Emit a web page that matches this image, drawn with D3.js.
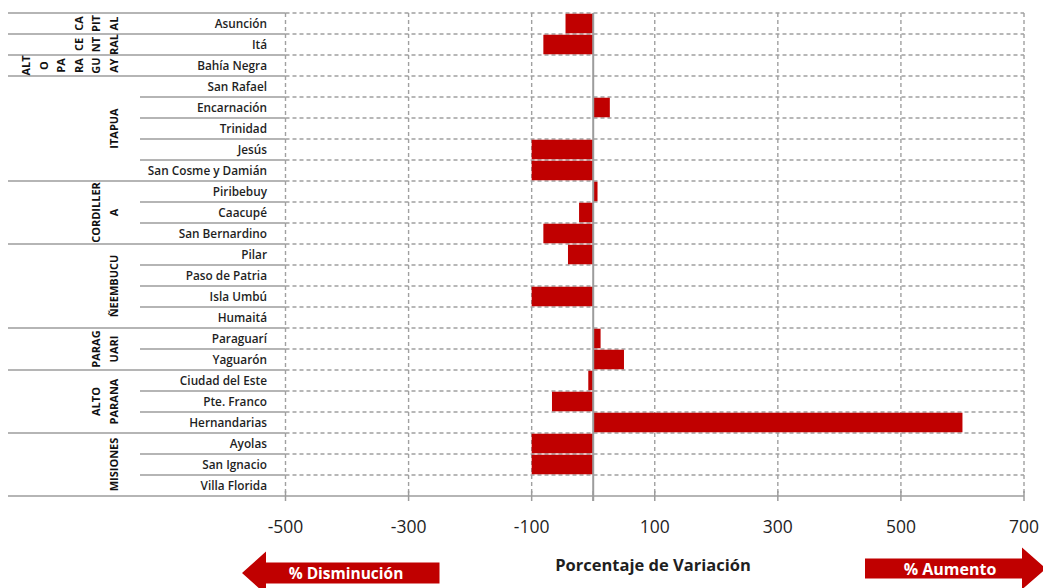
<!DOCTYPE html>
<html>
<head>
<meta charset="utf-8">
<script src="https://cdn.jsdelivr.net/npm/d3@7"></script>
<style>
  html, body { margin: 0; padding: 0; background: #fff; }
  svg { display: block; }
  text { font-family: "Open Sans", "Noto Sans", sans-serif; }
</style>
</head>
<body>
<svg id="chart" width="1043" height="588"></svg>
<script>
// Departments (groups), their wrapped vertical labels and how many cities each holds
const groups = ["CAPITAL", "CENTRAL", "ALTO PARAGUAY", "ITAPUA", "CORDILLERA", "ÑEEMBUCU", "PARAGUARI", "ALTO PARANA", "MISIONES"];
const groupLines = [
  ["CA", "PIT", "AL"],
  ["CE", "NT", "RAL"],
  ["ALT", "O", "PA", "RA", "GU", "AY"],
  ["ITAPUA"],
  ["CORDILLER", "A"],
  ["ÑEEMBUCU"],
  ["PARAG", "UARI"],
  ["ALTO", "PARANA"],
  ["MISIONES"]
];
const groupSizes = [1, 1, 1, 5, 3, 4, 2, 3, 3];

// Cities and their percentage variation
const cities = [
  "Asunción", "Itá", "Bahía Negra",
  "San Rafael", "Encarnación", "Trinidad", "Jesús", "San Cosme y Damián",
  "Piribebuy", "Caacupé", "San Bernardino",
  "Pilar", "Paso de Patria", "Isla Umbú", "Humaitá",
  "Paraguarí", "Yaguarón",
  "Ciudad del Este", "Pte. Franco", "Hernandarias",
  "Ayolas", "San Ignacio", "Villa Florida"
];
const variation = [
  -45, -81, 0,
  0, 27, 0, -100, -100,
  7, -23, -81,
  -41, 0, -100, 0,
  12, 50,
  -8, -67, 600,
  -100, -100, 0
];

const xTicks = [-500, -300, -100, 100, 300, 500, 700];
const axisTitle = "Porcentaje de Variación";
const leftArrowLabel = "% Disminución";
const rightArrowLabel = "% Aumento";

const svg = d3.select("#chart");

const plotLeft = 285.5, plotRight = 1024, plotTop = 13, plotBottom = 496;
const labelLeft = 8, cityLineLeft = 140;

const x = d3.scaleLinear().domain([-500, 700]).range([plotLeft, plotRight]);
const rows = d3.scaleBand().domain(cities).range([plotTop, plotBottom]);
const bars = d3.scaleBand().domain(cities).range([plotTop, plotBottom]).paddingInner(0.07).paddingOuter(0.035);

const gridColor = "#a0a0a0";
const lineColor = "#9c9c9c";
const barColor = "#c00000";
const textColor = "#1f1f1f";

// group boundaries (row index where each group starts)
const groupStart = [];
groupSizes.reduce((acc, n) => { groupStart.push(acc); return acc + n; }, 0);
const groupStartSet = new Set(groupStart);

// horizontal dashed gridlines at row boundaries in the plot
const boundaries = d3.range(cities.length).map(i => rows(cities[i]));
svg.append("g").selectAll("line").data(boundaries).join("line")
  .attr("x1", plotLeft).attr("x2", plotRight)
  .attr("y1", d => d).attr("y2", d => d)
  .attr("stroke", gridColor).attr("stroke-width", 1.4)
  .attr("stroke-dasharray", "4,3");

// vertical dashed gridlines
svg.append("g").selectAll("line").data(xTicks).join("line")
  .attr("x1", d => x(d)).attr("x2", d => x(d))
  .attr("y1", plotTop).attr("y2", plotBottom)
  .attr("stroke", gridColor).attr("stroke-width", 1.4)
  .attr("stroke-dasharray", "4,3");

// bars
svg.append("g").selectAll("rect").data(cities).join("rect")
  .attr("x", (d, i) => x(Math.min(0, variation[i])))
  .attr("width", (d, i) => Math.abs(x(variation[i]) - x(0)))
  .attr("y", d => bars(d))
  .attr("height", bars.bandwidth())
  .attr("fill", barColor);

// zero (category) axis line
svg.append("line")
  .attr("x1", x(0)).attr("x2", x(0))
  .attr("y1", plotTop).attr("y2", plotBottom + 5)
  .attr("stroke", lineColor).attr("stroke-width", 2);

// bottom value axis with crossing ticks
const axisG = svg.append("g");
axisG.append("line")
  .attr("x1", labelLeft).attr("x2", plotRight)
  .attr("y1", plotBottom).attr("y2", plotBottom)
  .attr("stroke", lineColor).attr("stroke-width", 1.5);
axisG.selectAll("line.tick").data(xTicks.concat([0])).join("line")
  .attr("class", "tick")
  .attr("x1", d => x(d)).attr("x2", d => x(d))
  .attr("y1", plotBottom - 5).attr("y2", plotBottom + 5)
  .attr("stroke", lineColor).attr("stroke-width", 1.5);
axisG.selectAll("text").data(xTicks).join("text")
  .attr("x", d => x(d)).attr("y", 533)
  .attr("text-anchor", "middle")
  .attr("font-size", 17.5)
  .attr("fill", textColor)
  .text(d => d3.format("d")(d).replace("−", "-"));

// left label area row separators
svg.append("g").selectAll("line").data(d3.range(cities.length)).join("line")
  .attr("x1", i => groupStartSet.has(i) ? labelLeft : cityLineLeft)
  .attr("x2", plotLeft)
  .attr("y1", i => rows(cities[i])).attr("y2", i => rows(cities[i]))
  .attr("stroke", lineColor).attr("stroke-width", 1.4);

// city labels
svg.append("g").selectAll("text").data(cities).join("text")
  .attr("x", 267)
  .attr("y", d => rows(d) + rows.bandwidth() / 2 + 4)
  .attr("text-anchor", "end")
  .attr("font-size", 11.8)
  .attr("font-weight", 600)
  .attr("fill", textColor)
  .text(d => d);

// vertical group labels
const lastLineX = 118, lineGap = 17.6;
groups.forEach((g, gi) => {
  const first = cities[groupStart[gi]];
  const last = cities[groupStart[gi] + groupSizes[gi] - 1];
  const cy = (rows(first) + rows(last) + rows.bandwidth()) / 2;
  const lines = groupLines[gi];
  lines.forEach((t, li) => {
    const bx = lastLineX - (lines.length - 1 - li) * lineGap;
    svg.append("text")
      .attr("transform", `translate(${bx},${cy}) rotate(-90)`)
      .attr("text-anchor", "middle")
      .attr("font-size", 11)
      .attr("font-weight", 700)
      .attr("fill", "#111")
      .text(t);
  });
});

// axis title
svg.append("text")
  .attr("x", 653).attr("y", 571)
  .attr("text-anchor", "middle")
  .attr("font-size", 16.5)
  .attr("font-weight", 700)
  .attr("fill", textColor)
  .text(axisTitle);

// direction arrows
function arrow(tipX, baseX, endX, cy, bodyH, headH) {
  const p = d3.path();
  p.moveTo(tipX, cy);
  p.lineTo(baseX, cy - headH / 2);
  p.lineTo(baseX, cy - bodyH / 2);
  p.lineTo(endX, cy - bodyH / 2);
  p.lineTo(endX, cy + bodyH / 2);
  p.lineTo(baseX, cy + bodyH / 2);
  p.lineTo(baseX, cy + headH / 2);
  p.closePath();
  return p.toString();
}
svg.append("path")
  .attr("d", arrow(242, 266, 439.5, 573, 21, 43))
  .attr("fill", barColor);
svg.append("text")
  .attr("x", 346).attr("y", 578.5)
  .attr("text-anchor", "middle")
  .attr("font-size", 15.5)
  .attr("font-weight", 700)
  .attr("fill", "#fff")
  .text(leftArrowLabel);

svg.append("path")
  .attr("d", arrow(1046, 1022, 865, 568.5, 20, 42))
  .attr("fill", barColor);
svg.append("text")
  .attr("x", 950).attr("y", 574.5)
  .attr("text-anchor", "middle")
  .attr("font-size", 16)
  .attr("font-weight", 700)
  .attr("fill", "#fff")
  .text(rightArrowLabel);
</script>
</body>
</html>
